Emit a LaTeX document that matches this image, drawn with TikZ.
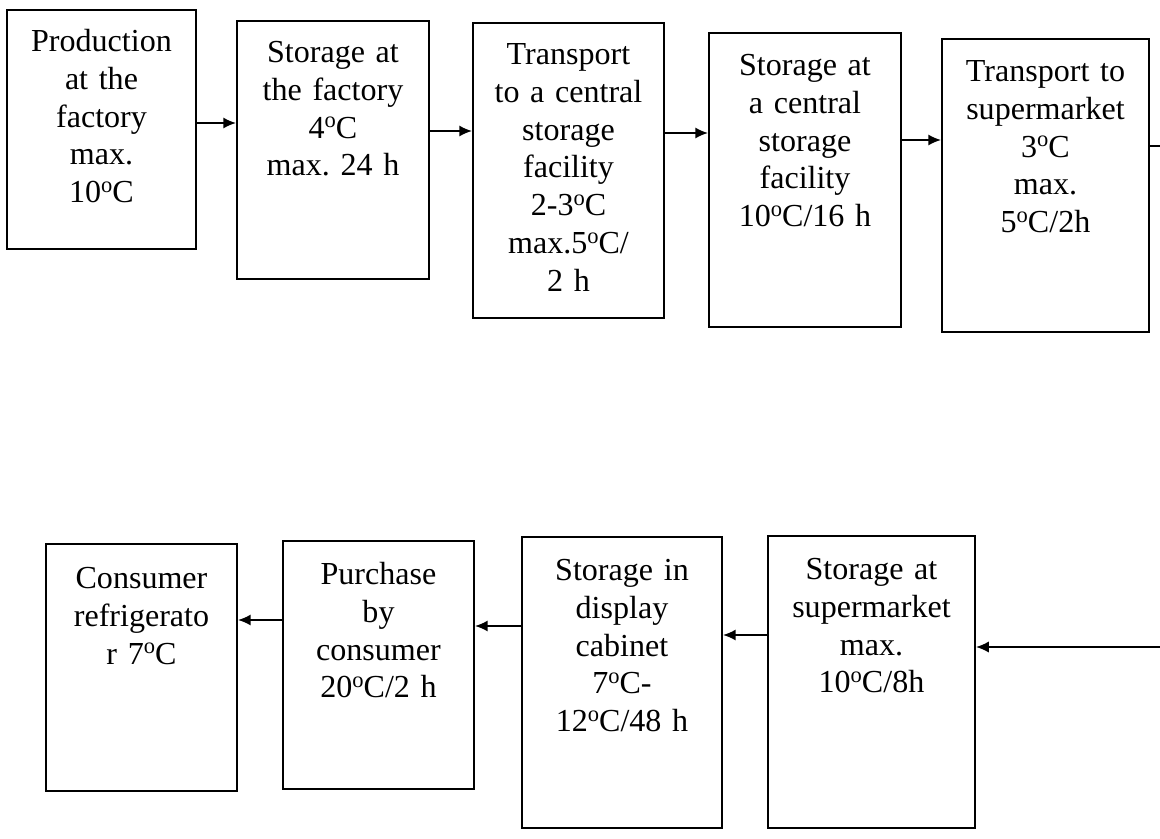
\documentclass[tikz,border=0pt]{standalone}
\usepackage{fontspec}
\setmainfont{Liberation Serif}
\usetikzlibrary{arrows.meta,positioning,calc}
\newcommand{\degC}{\raisebox{7.6pt}{\fontsize{16}{16}\selectfont o}C}

\begin{document}
\begin{tikzpicture}[x=0.025cm,y=-0.025cm,
    box/.style={rectangle,draw,line width=1.3pt},
    boxtext/.style={anchor=base,text width=5cm,align=center,inner sep=0pt,font=\fontsize{22.8}{27}\selectfont\frenchspacing},
    arr/.style={line width=1.3pt,-{Latex[length=3.2mm,width=2.8mm]}}]
    \useasboundingbox (0,0) rectangle (1160,838);

    % Top row
    \node[box,minimum width=4.725cm,minimum height=5.975cm] (prod) at (101.5,129.5) {};
    \node[boxtext] (prodtext) at ([yshift=-1.05cm]prod.north) {Production\\at the\\factory\\max.\\10\degC};

    \node[box,minimum width=4.8cm,minimum height=6.45cm] (storefac) at (333,150) {};
    \node[boxtext] (storefactext) at ([yshift=-1.05cm]storefac.north) {Storage at\\the factory\\4\degC\\max. 24 h};

    \node[box,minimum width=4.775cm,minimum height=7.375cm] (transcent) at (568.5,170.5) {};
    \node[boxtext] (transcenttext) at ([yshift=-1.05cm]transcent.north) {Transport\\to a central\\storage\\facility\\2-3\degC\\max.5\degC/\\2 h};

    \node[box,minimum width=4.8cm,minimum height=7.35cm] (storecent) at (805,180) {};
    \node[boxtext] (storecenttext) at ([yshift=-1.075cm]storecent.north) {Storage at\\a central\\storage\\facility\\10\degC/16 h};

    \node[box,minimum width=5.175cm,minimum height=7.325cm] (transsup) at (1045.5,185.5) {};
    \node[boxtext] (transsuptext) at ([yshift=-1.075cm]transsup.north) {Transport to\\supermarket\\3\degC\\max.\\5\degC/2h};

    \coordinate (outR) at (1160,146);

    \draw[arr] (prod.east |- 0,123) -- (storefac.west |- 0,123);
    \draw[arr] (storefac.east |- 0,131) -- (transcent.west |- 0,131);
    \draw[arr] (transcent.east |- 0,133) -- (storecent.west |- 0,133);
    \draw[arr] (storecent.east |- 0,140) -- (transsup.west |- 0,140);
    \draw[line width=1.3pt] (transsup.east |- 0,146) -- (outR);

    % Bottom row
    \node[box,minimum width=5.175cm,minimum height=7.3cm] (storesup) at (871.5,682) {};
    \node[boxtext] (storesuptext) at ([yshift=-1.1cm]storesup.north) {Storage at\\supermarket\\max.\\10\degC/8h};

    \node[box,minimum width=5cm,minimum height=7.275cm] (display) at (622,682.5) {};
    \node[boxtext] (displaytext) at ([yshift=-1.1cm]display.north) {Storage in\\display\\cabinet\\7\degC-\\12\degC/48 h};

    \node[box,minimum width=4.775cm,minimum height=6.2cm] (purchase) at (378.5,665) {};
    \node[boxtext] (purchasetext) at ([yshift=-1.1cm]purchase.north) {Purchase\\by\\consumer\\20\degC/2 h};

    \node[box,minimum width=4.775cm,minimum height=6.175cm] (fridge) at (141.5,667.5) {};
    \node[boxtext] (fridgetext) at ([yshift=-1.125cm]fridge.north) {Consumer\\refrigerato\\r 7\degC};

    \coordinate (inR) at (1160,647);

    \draw[arr] (inR) -- (storesup.east |- 0,647);
    \draw[arr] (storesup.west |- 0,635) -- (display.east |- 0,635);
    \draw[arr] (display.west |- 0,626) -- (purchase.east |- 0,626);
    \draw[arr] (purchase.west |- 0,620) -- (fridge.east |- 0,620);
\end{tikzpicture}
\end{document}
